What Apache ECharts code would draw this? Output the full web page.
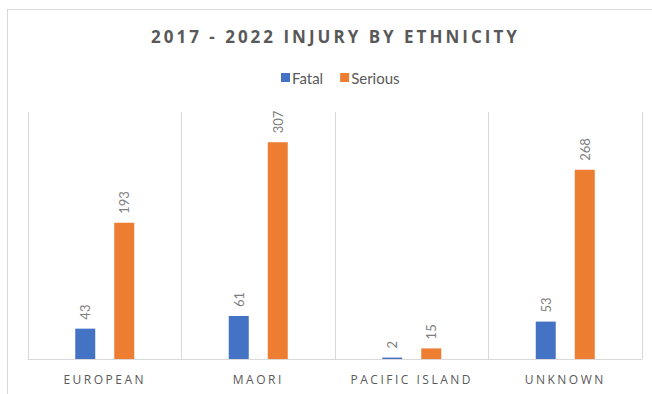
<!DOCTYPE html>
<html>
<head>
<meta charset="utf-8">
<script src="https://cdn.jsdelivr.net/npm/echarts@6/dist/echarts.min.js"></script>
<style>
  html, body { margin: 0; padding: 0; background: #fff; }
  #wrap { position: relative; width: 652px; height: 394px; overflow: hidden; }
  #frame { position: absolute; left: 7px; top: 9px; width: 700px; height: 420px;
           border: 1px solid #d9d9d9; box-sizing: border-box; }
  #chart { position: absolute; left: 0; top: 0; width: 652px; height: 394px; }
  /* spaced capitals for the title and the category names */
  #chart text[style*="Open Sans"] { letter-spacing: 2.5px; }
  #chart text[style*="Open Sans"][style*="bold"] { letter-spacing: 3px; }
</style>
</head>
<body>
<div id="wrap">
  <div id="frame"></div>
  <div id="chart"></div>
</div>
<script>
const categories = ['EUROPEAN', 'MAORI', 'PACIFIC ISLAND', 'UNKNOWN'];
const fatal = [43, 61, 2, 53];
const serious = [193, 307, 15, 268];

const chart = echarts.init(document.getElementById('chart'), null, { renderer: 'svg' });

const valueLabel = {
  show: true,
  position: 'top',
  rotate: 90,
  align: 'left',
  verticalAlign: 'middle',
  distance: 9,
  color: '#7f7f7f',
  fontFamily: 'Lato',
  fontSize: 13
};

chart.setOption({
  backgroundColor: 'transparent',
  animation: false,
  title: {
    text: '2017 - 2022 INJURY BY ETHNICITY',
    left: 146,
    top: 23,
    textStyle: {
      fontFamily: 'Open Sans',
      fontWeight: 'bold',
      fontSize: 17,
      color: '#595959'
    }
  },
  legend: {
    top: 65,
    left: 276,
    itemWidth: 9,
    itemHeight: 9,
    itemGap: 17,
    icon: 'rect',
    textStyle: { fontFamily: 'Lato', fontSize: 15, color: '#595959', padding: [0, 0, 0, -3] },
    data: ['Fatal', 'Serious']
  },
  grid: { left: 28, right: 10, top: 112, bottom: 35, containLabel: false },
  xAxis: {
    type: 'category',
    data: categories,
    axisLine: { lineStyle: { color: '#d9d9d9', width: 1 } },
    axisTick: { show: false },
    splitLine: { show: true, lineStyle: { color: '#d9d9d9', width: 1 } },
    axisLabel: {
      fontFamily: 'Open Sans',
      fontSize: 12,
      color: '#595959',
      margin: 14
    }
  },
  yAxis: {
    type: 'value',
    min: 0,
    max: 350,
    show: false
  },
  series: [
    {
      name: 'Fatal',
      type: 'bar',
      data: fatal,
      barWidth: 20,
      barGap: '95%',
      itemStyle: { color: '#4472C4' },
      label: valueLabel
    },
    {
      name: 'Serious',
      type: 'bar',
      data: serious,
      barWidth: 20,
      itemStyle: { color: '#ED7D31' },
      label: valueLabel
    }
  ]
});
</script>
</body>
</html>
